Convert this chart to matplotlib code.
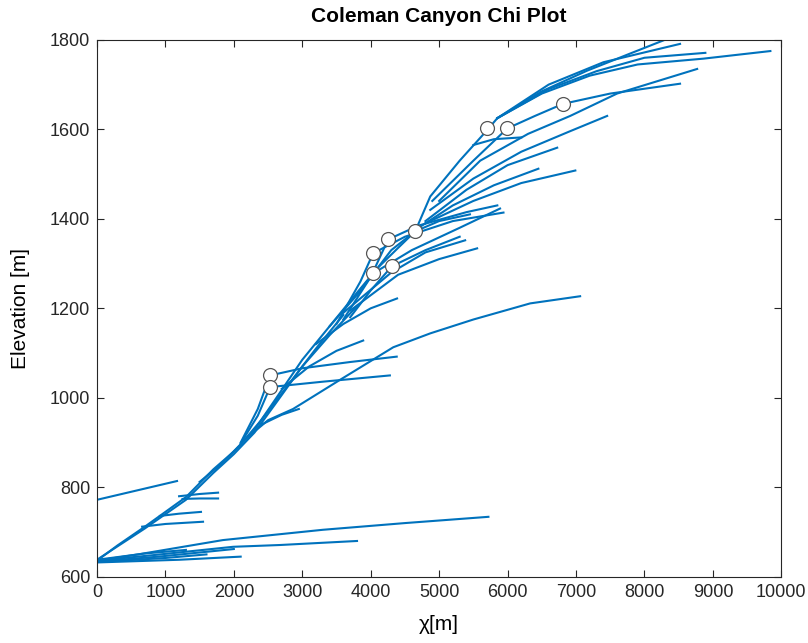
import numpy as np
import matplotlib
matplotlib.use('Agg')
from matplotlib import pyplot as plt

plt.rcParams['font.family'] = ['Liberation Sans', 'DejaVu Sans']

# lower basin streams (chi [m], elevation [m])
low1_chi = [0, 600, 1840, 3300, 4500, 5720]
low1_z = [636, 650, 682, 705, 720, 734]
low2_chi = [0, 800, 1990, 2675, 3800]
low2_z = [636, 648, 667, 671, 680]
low3_chi = [0, 900, 2000]
low3_z = [634, 645, 662]
low4_chi = [0, 1000, 1600]
low4_z = [633, 642, 650]
low5_chi = [0, 700, 1300]
low5_z = [638, 652, 660]
low6_chi = [0, 1200, 2100]
low6_z = [632, 638, 645]
side_chi = [0, 1170]
side_z = [772, 814]

# main trunk of the upper basin
trunk_chi = [0, 300, 700, 1300, 1700, 2000, 2300, 2600, 3000, 3400, 3800, 4100,
             4400, 4650, 4870, 5300, 5700, 5850, 6500, 7160, 7800, 8330]
trunk_z = [636, 670, 712, 778, 840, 880, 928, 995, 1085, 1160, 1235, 1290,
           1335, 1372, 1450, 1530, 1598, 1625, 1685, 1731, 1770, 1802]
trunk2_chi = [0, 700, 1300, 1700, 2000, 2300, 2600, 3000, 3400, 3800]
trunk2_z = [638, 708, 772, 832, 874, 922, 985, 1070, 1140, 1205]
trunk3_chi = [1500, 1800, 2100, 2400, 2800, 3200, 3600]
trunk3_z = [812, 850, 896, 950, 1030, 1110, 1185]

# short tributaries near the outlet
b1_chi = [660, 1000, 1550]
b1_z = [712, 718, 723]
b2_chi = [920, 1200, 1520]
b2_z = [736, 741, 745]
b3_chi = [1200, 1500, 1770]
b3_z = [780, 785, 788]
b4_chi = [1250, 1500, 1770]
b4_z = [774, 775, 775]

# middle streams
m1_chi = [2100, 2350, 2530, 3000, 3700, 4380]
m1_z = [900, 975, 1050, 1066, 1080, 1092]
m2_chi = [2100, 2350, 2530, 3300, 4280]
m2_z = [898, 960, 1024, 1036, 1050]
m3_chi = [2150, 2500, 2865, 3550, 4330, 4870, 5500, 6330, 7060]
m3_z = [905, 950, 975, 1040, 1113, 1144, 1175, 1211, 1227]
m4_chi = [2400, 2700, 2950]
m4_z = [940, 962, 975]
m5_chi = [2700, 3100, 3500, 3890]
m5_z = [1020, 1070, 1105, 1128]

# fan between 3000 and 6000
f1_chi = [3200, 3600, 4000, 4385]
f1_z = [1120, 1165, 1200, 1222]
f2_chi = [3600, 4300, 4800, 5380]
f2_z = [1190, 1280, 1325, 1352]
f3_chi = [3700, 4400, 5000, 5555]
f3_z = [1195, 1275, 1310, 1334]
k1_chi = [3400, 3800, 4035, 4600, 5300, 5890]
k1_z = [1160, 1230, 1278, 1330, 1380, 1423]
k2_chi = [3500, 3850, 4035, 4500, 5200, 5940]
k2_z = [1165, 1260, 1323, 1360, 1395, 1414]
k3_chi = [3600, 4000, 4255, 4700, 5400, 5850]
k3_z = [1175, 1270, 1354, 1385, 1415, 1430]
k4_chi = [3700, 4000, 4310, 4800, 5300]
k4_z = [1180, 1240, 1294, 1330, 1360]
k5_chi = [3800, 4300, 4650, 5000, 5450]
k5_z = [1230, 1330, 1372, 1395, 1410]

# upper fan
e1_chi = [4700, 5200, 5800, 6450]
e1_z = [1380, 1430, 1475, 1512]
e2_chi = [4800, 5500, 6200, 6990]
e2_z = [1390, 1440, 1480, 1508]
e3_chi = [4800, 5400, 6000, 6725]
e3_z = [1395, 1465, 1520, 1559]
e4_chi = [4870, 5500, 6200, 6900, 7455]
e4_z = [1420, 1490, 1550, 1595, 1630]
e5_chi = [4900, 5500, 5995, 6400, 6810, 7500, 8520]
e5_z = [1440, 1530, 1602, 1630, 1657, 1680, 1702]
e6_chi = [5000, 5600, 6300, 6915, 7600, 8770]
e6_z = [1440, 1530, 1590, 1630, 1680, 1735]
e7_chi = [5850, 6500, 7200, 7900, 8860, 9840]
e7_z = [1625, 1680, 1720, 1745, 1758, 1775]
e8_chi = [5850, 6600, 7300, 8000, 8890]
e8_z = [1625, 1690, 1730, 1760, 1771]
e9_chi = [5850, 6600, 7400, 8520]
e9_z = [1625, 1700, 1750, 1791]
p3_chi = [5500, 5800, 6200]
p3_z = [1565, 1578, 1582]

# knickpoints
knick_chi = [2530, 2530, 4035, 4035, 4255, 4310, 4650, 5700, 5995, 6810]
knick_z = [1050, 1024, 1323, 1278, 1354, 1294, 1372, 1602, 1602, 1657]

streams = [(low1_chi, low1_z), (low2_chi, low2_z), (low3_chi, low3_z),
           (low4_chi, low4_z), (low5_chi, low5_z), (low6_chi, low6_z),
           (side_chi, side_z), (trunk_chi, trunk_z), (trunk2_chi, trunk2_z),
           (trunk3_chi, trunk3_z), (b1_chi, b1_z), (b2_chi, b2_z),
           (b3_chi, b3_z), (b4_chi, b4_z), (m1_chi, m1_z), (m2_chi, m2_z),
           (m3_chi, m3_z), (m4_chi, m4_z), (m5_chi, m5_z), (f1_chi, f1_z),
           (f2_chi, f2_z), (f3_chi, f3_z), (k1_chi, k1_z), (k2_chi, k2_z),
           (k3_chi, k3_z), (k4_chi, k4_z), (k5_chi, k5_z), (e1_chi, e1_z),
           (e2_chi, e2_z), (e3_chi, e3_z), (e4_chi, e4_z), (e5_chi, e5_z),
           (e6_chi, e6_z), (e7_chi, e7_z), (e8_chi, e8_z), (e9_chi, e9_z),
           (p3_chi, p3_z)]

fig = plt.figure(figsize=(8.08, 6.43), dpi=100)
ax = fig.add_axes([0.120, 0.103, 0.847, 0.835])

for c, z in streams:
    ax.plot(c, z, color='#0072BD', lw=1.5)

ax.plot(knick_chi, knick_z, 'o', ms=10, mfc='white', mec='#555555', mew=0.9)

ax.set_xlim(0, 10000)
ax.set_ylim(600, 1800)
ax.set_xticks(np.arange(0, 10001, 1000))
ax.set_yticks(np.arange(600, 1801, 200))
ax.tick_params(direction='in', top=True, right=True, labelsize=13, length=5,
               color='#262626', labelcolor='#262626', pad=5)
for sp in ax.spines.values():
    sp.set_color('#262626')
    sp.set_linewidth(0.8)

ax.set_title('Coleman Canyon Chi Plot', fontsize=15, fontweight='bold', pad=13)
ax.set_xlabel('χ[m]', fontsize=15, labelpad=10)
ax.set_ylabel('Elevation [m]', fontsize=15, labelpad=14)

fig.savefig('out.png', dpi=100)
